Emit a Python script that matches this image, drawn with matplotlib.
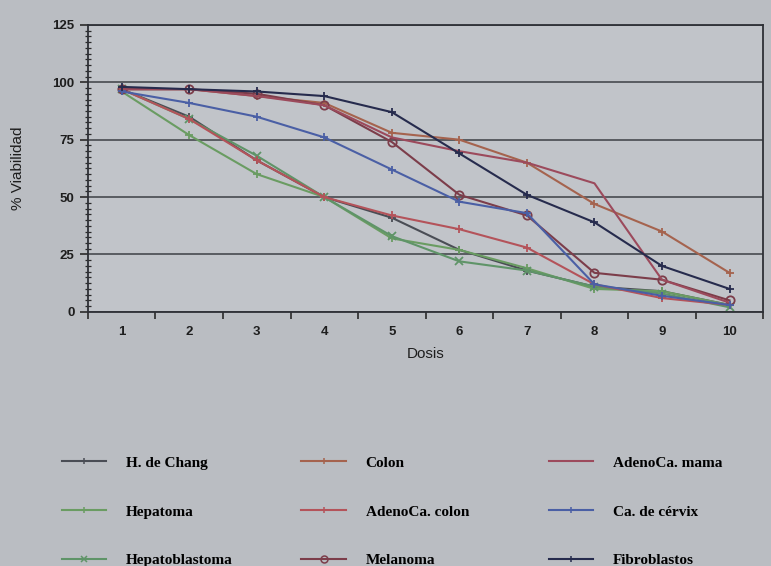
"""Viability curves (% Viabilidad vs Dosis) for nine cell lines."""
import numpy as np
import matplotlib
matplotlib.use("Agg")
import matplotlib.pyplot as plt
from matplotlib.lines import Line2D
from matplotlib.ticker import MultipleLocator, FixedLocator

dosis = [1, 2, 3, 4, 5, 6, 7, 8, 9, 10]

h_chang = [97, 85, 66, 50, 41, 27, 18, 11, 9, 3]
hepatoma = [96, 77, 60, 50, 32, 27, 19, 10, 9, 3]
hepatoblastoma = [97, 84, 68, 50, 33, 22, 18, 11, 8, 2]
colon = [97, 97, 94, 91, 78, 75, 65, 47, 35, 17]
adenoca_colon = [97, 84, 66, 50, 42, 36, 28, 12, 6, 3]
melanoma = [97, 97, 95, 90, 74, 51, 42, 17, 14, 5]
adenoca_mama = [97, 97, 94, 90, 76, 70, 65, 56, 14, 4]
cervix = [96, 91, 85, 76, 62, 48, 43, 12, 7, 3]
fibroblastos = [98, 97, 96, 94, 87, 69, 51, 39, 20, 10]

labels = ["H. de Chang", "Hepatoma", "Hepatoblastoma",
          "Colon", "AdenoCa. colon", "Melanoma",
          "AdenoCa. mama", "Ca. de cérvix", "Fibroblastos"]
series = [h_chang, hepatoma, hepatoblastoma,
          colon, adenoca_colon, melanoma,
          adenoca_mama, cervix, fibroblastos]

STYLES = [
    ("#4a4d55", "+"),
    ("#6a9c62", "+"),
    ("#5f9468", "x"),
    ("#a5634e", "+"),
    ("#b4535a", "+"),
    ("#7c3d4a", "o"),
    ("#9c4a5c", ""),
    ("#4a5fa5", "+"),
    ("#262b4d", "+"),
]

BG = "#babdc2"
PLOT_BG = "#c1c4c9"

fig = plt.figure(figsize=(7.71, 5.66), dpi=100, facecolor=BG)
ax = fig.add_axes([0.114, 0.449, 0.876, 0.507], facecolor=PLOT_BG)

for y, (color, mk) in zip(series, STYLES):
    ax.plot(dosis, y, color=color, linewidth=1.5, marker=mk,
            markersize=6, markeredgewidth=1.3, markerfacecolor="none")

ax.set_xlim(0.5, 10.5)
ax.set_ylim(0, 125)

# category-style x axis: ticks between doses, labels on doses
ax.xaxis.set_major_locator(FixedLocator(np.arange(0.5, 11, 1)))
ax.set_xticklabels([])
ax.set_xticks(dosis, [str(d) for d in dosis], minor=True)
ax.tick_params(axis="x", which="major", direction="out", length=5,
               width=1.2, color="#2a2a2a")
ax.tick_params(axis="x", which="minor", length=0, pad=10,
               labelsize=9.5, labelcolor="#1e1e1e")

ax.yaxis.set_major_locator(MultipleLocator(25))
ax.yaxis.set_minor_locator(MultipleLocator(2.5))
ax.tick_params(axis="y", which="major", direction="out", length=6,
               width=1.2, labelsize=9.5, labelcolor="#1e1e1e", color="#2a2a2a")
ax.tick_params(axis="y", which="minor", direction="inout", length=4,
               width=0.9, color="#2a2a2a")
for lab in ax.get_xticklabels(minor=True) + ax.get_yticklabels():
    lab.set_fontfamily("Liberation Sans")
    lab.set_fontweight("bold")

ax.yaxis.grid(True, which="major", color="#3c3f45", linewidth=1.1)
ax.set_axisbelow(True)
for side in ["left", "bottom", "top", "right"]:
    ax.spines[side].set_color("#2e3036")
    ax.spines[side].set_linewidth(1.3)

ax.set_xlabel("Dosis", fontsize=11, family="Liberation Sans",
              color="#1e1e1e", labelpad=7)
ax.set_ylabel("% Viabilidad", fontsize=11, family="Liberation Sans",
              color="#1e1e1e", labelpad=20)

# legend in three columns under the plot
col_x = [0.072, 0.383, 0.704]
for c in range(3):
    handles = []
    for i in range(3 * c, 3 * c + 3):
        color, mk = STYLES[i]
        handles.append(Line2D([], [], color=color, linewidth=1.5, marker=mk,
                              markersize=5, markeredgewidth=1.1,
                              markerfacecolor="none"))
    fig.legend(handles, labels[3 * c:3 * c + 3], loc="upper left",
               bbox_to_anchor=(col_x[c], 0.205), frameon=False,
               handlelength=2.9, handletextpad=1.3, labelspacing=2.3,
               borderaxespad=0, prop={"family": "Liberation Serif",
                                      "size": 11, "weight": "bold"})

fig.savefig("out.png", dpi=100, facecolor=BG)
